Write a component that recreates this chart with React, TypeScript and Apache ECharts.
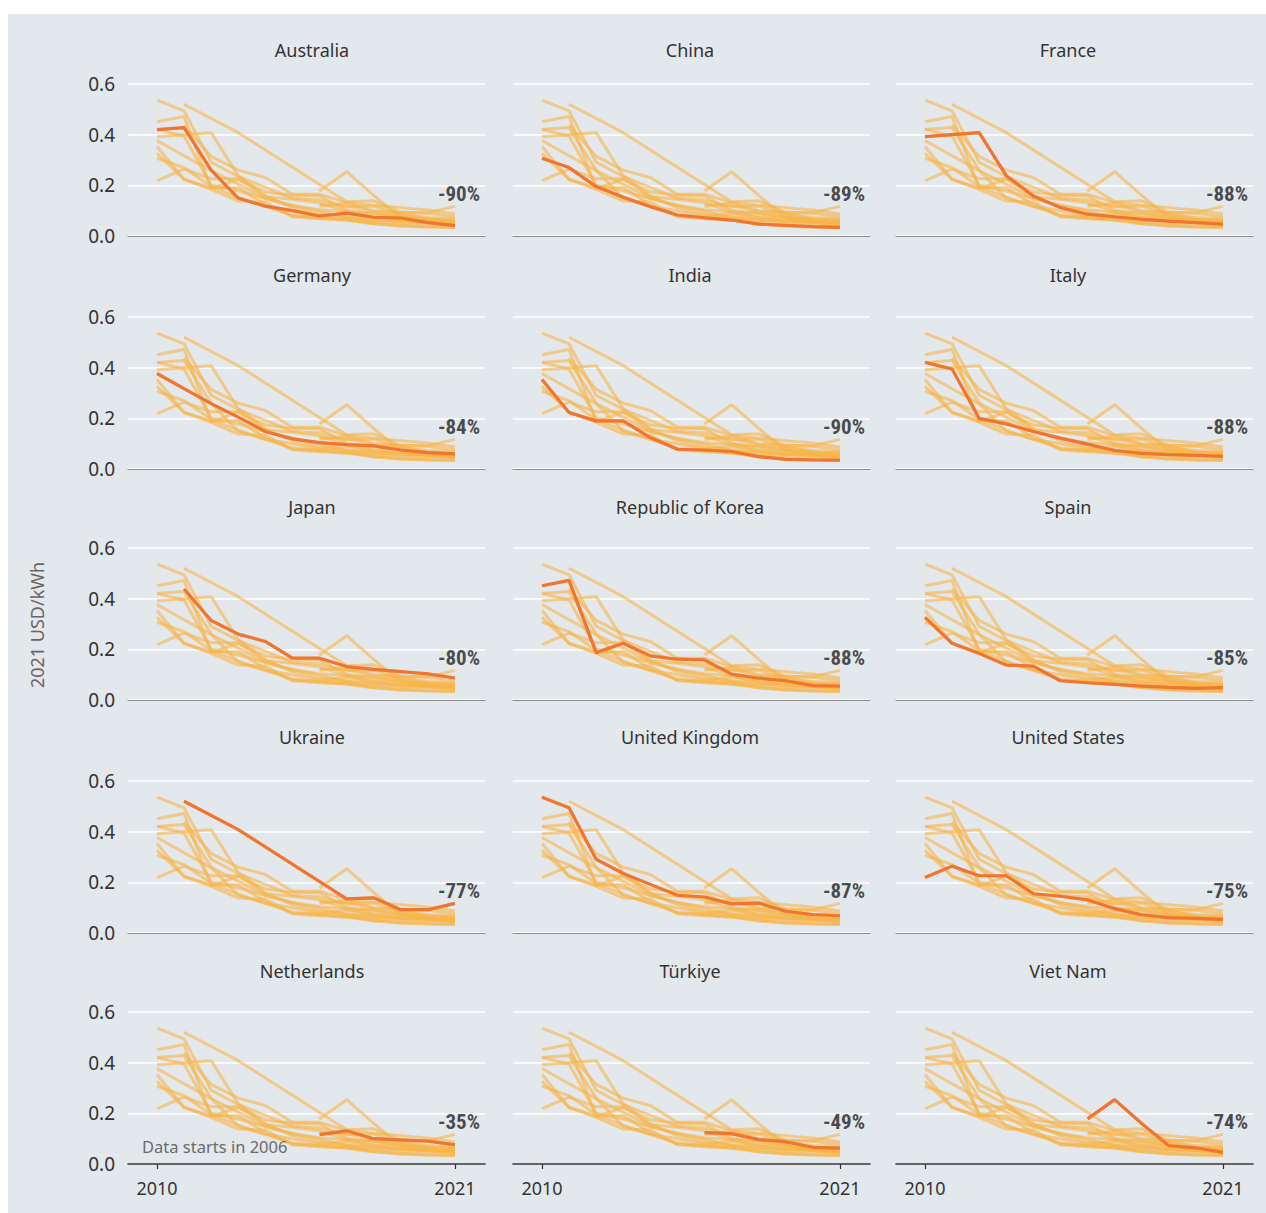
import React, { useEffect, useRef } from "react";
import * as echarts from "echarts";

// ---- Data (2021 USD/kWh) ----
const years = [2010, 2011, 2012, 2013, 2014, 2015, 2016, 2017, 2018, 2019, 2020, 2021];

const australia = [0.42, 0.428, 0.26, 0.149, 0.118, 0.1, 0.079, 0.09, 0.074, 0.071, 0.053, 0.041];
const china = [0.307, 0.27, 0.195, 0.153, 0.116, 0.083, 0.072, 0.063, 0.047, 0.042, 0.037, 0.034];
const france = [0.392, 0.4, 0.408, 0.238, 0.158, 0.112, 0.086, 0.076, 0.066, 0.059, 0.053, 0.047];
const germany = [0.377, 0.317, 0.258, 0.205, 0.148, 0.119, 0.104, 0.096, 0.091, 0.075, 0.065, 0.06];
const india = [0.353, 0.223, 0.19, 0.19, 0.124, 0.078, 0.075, 0.069, 0.049, 0.038, 0.036, 0.035];
const italy = [0.421, 0.395, 0.2, 0.178, 0.148, 0.122, 0.098, 0.073, 0.062, 0.057, 0.054, 0.05];
const japan = [null, 0.438, 0.314, 0.26, 0.231, 0.165, 0.165, 0.132, 0.121, 0.112, 0.103, 0.087];
const korea = [0.451, 0.472, 0.187, 0.224, 0.174, 0.161, 0.158, 0.102, 0.086, 0.076, 0.057, 0.055];
const spain = [0.326, 0.224, 0.184, 0.138, 0.134, 0.076, 0.068, 0.062, 0.055, 0.05, 0.046, 0.049];
const ukraine = [null, 0.52, null, 0.408, null, null, null, 0.135, 0.139, 0.092, 0.092, 0.117];
const unitedKingdom = [0.536, 0.494, 0.291, 0.235, 0.192, 0.149, 0.142, 0.115, 0.118, 0.086, 0.073, 0.068];
const unitedStates = [0.219, 0.264, 0.226, 0.226, 0.155, 0.145, 0.131, 0.096, 0.072, 0.061, 0.058, 0.054];
const netherlands = [null, null, null, null, null, null, 0.116, 0.131, 0.1, 0.095, 0.09, 0.076];
const turkiye = [null, null, null, null, null, null, 0.124, 0.12, 0.096, 0.088, 0.066, 0.063];
const vietNam = [null, null, null, null, null, null, 0.178, 0.254, 0.16, 0.072, 0.064, 0.046];

const countries = [
  "Australia", "China", "France",
  "Germany", "India", "Italy",
  "Japan", "Republic of Korea", "Spain",
  "Ukraine", "United Kingdom", "United States",
  "Netherlands", "Türkiye", "Viet Nam",
];
const countryValues = [
  australia, china, france,
  germany, india, italy,
  japan, korea, spain,
  ukraine, unitedKingdom, unitedStates,
  netherlands, turkiye, vietNam,
];
const changeLabels = [
  "-90%", "-89%", "-88%",
  "-84%", "-90%", "-88%",
  "-80%", "-88%", "-85%",
  "-77%", "-87%", "-75%",
  "-35%", "-49%", "-74%",
];
const xTickYears = [2010, 2021];
const yAxisTitle = "2021 USD/kWh";
const noteText = "Data starts in 2006";

const FONT = "'Noto Sans', Lato, sans-serif";
const BOLD_FONT = "'Liberation Sans Narrow', 'Roboto Condensed', 'DejaVu Sans Condensed', Roboto, sans-serif";

export default function App() {
  const ref = useRef<HTMLDivElement>(null);

  useEffect(() => {
    if (!ref.current) return;
    const chart = echarts.init(ref.current, null, { renderer: "svg" });

    const colLeft = [128, 513, 896];
    const rowTop = [84, 317, 548, 781, 1012];
    const titleX = [312, 690, 1068];
    const titleY = [50, 275, 507, 737, 971];

    const grids: any[] = [];
    const xAxes: any[] = [];
    const yAxes: any[] = [];
    const series: any[] = [];
    const graphics: any[] = [
      {
        type: "rect",
        shape: { x: 8, y: 14, width: 1258, height: 1199 },
        style: { fill: "#E3E8EC" },
        z: -100,
        silent: true,
      },
      {
        type: "text",
        x: 37,
        y: 625,
        rotation: Math.PI / 2,
        style: {
          text: yAxisTitle,
          fill: "#666",
          font: `18px ${FONT}`,
          textAlign: "center",
          textVerticalAlign: "middle",
        },
        silent: true,
      },
      {
        type: "text",
        x: 142,
        y: 1146,
        style: {
          text: noteText,
          fill: "#6b6b6b",
          font: `16.5px ${FONT}`,
          textAlign: "left",
          textVerticalAlign: "middle",
        },
        z: 50,
        silent: true,
      },
    ];

    const toData = (vals: (number | null)[]) =>
      years.map((y, k) => [y, vals[k] === null ? "-" : vals[k]]);

    countries.forEach((name, i) => {
      const r = Math.floor(i / 3);
      const c = i % 3;
      const lastRow = r === 4;
      grids.push({ left: colLeft[c], top: rowTop[r], width: 357, height: 152 });

      xAxes.push({
        type: "value",
        gridIndex: i,
        min: 2008.93,
        max: 2022.11,
        axisLine: {
          show: true,
          onZero: false,
          lineStyle: { color: lastRow ? "#333" : "#8c8c8c", width: lastRow ? 1.6 : 1.2 },
        },
        axisTick: {
          show: lastRow,
          customValues: xTickYears,
          length: 5,
          lineStyle: { color: "#333", width: 1.2 },
        },
        axisLabel: {
          show: lastRow,
          customValues: xTickYears,
          formatter: (v: number) => String(v),
          fontSize: 18,
          color: "#333",
          fontFamily: FONT,
          margin: 15,
        },
        splitLine: { show: false },
      });

      yAxes.push({
        type: "value",
        gridIndex: i,
        min: 0,
        max: 0.6,
        interval: 0.2,
        axisLine: { show: false },
        axisTick: { show: false },
        axisLabel: {
          show: c === 0,
          formatter: (v: number) => v.toFixed(1),
          fontSize: 19,
          color: "#333",
          fontFamily: FONT,
          margin: 13,
        },
        splitLine: { show: true, lineStyle: { color: "#ffffff", width: 1.6 } },
      });

      countryValues.forEach((vals) => {
        series.push({
          type: "line",
          xAxisIndex: i,
          yAxisIndex: i,
          data: toData(vals),
          symbol: "none",
          connectNulls: true,
          silent: true,
          lineStyle: { color: "rgba(248, 180, 72, 0.6)", width: 3 },
          z: 2,
        });
      });

      series.push({
        type: "line",
        xAxisIndex: i,
        yAxisIndex: i,
        data: toData(countryValues[i]),
        symbol: "none",
        connectNulls: true,
        silent: true,
        lineStyle: { color: "#F07530", width: 3.2 },
        z: 3,
      });

      series.push({
        type: "scatter",
        xAxisIndex: i,
        yAxisIndex: i,
        data: [[2021.15, 0.167]],
        symbolSize: 0,
        silent: true,
        z: 4,
        label: {
          show: true,
          position: "inside",
          formatter: changeLabels[i],
          fontSize: 21,
          fontWeight: "bold",
          color: "#1e1e1e",
          fontFamily: BOLD_FONT,
        },
      });

      graphics.push({
        type: "text",
        x: titleX[c],
        y: titleY[r],
        style: {
          text: name,
          fill: "#333",
          font: `18px ${FONT}`,
          textAlign: "center",
          textVerticalAlign: "middle",
        },
        silent: true,
      });
    });

    chart.setOption({
      animation: false,
      backgroundColor: "#ffffff",
      grid: grids,
      xAxis: xAxes,
      yAxis: yAxes,
      series,
      graphic: { elements: graphics },
    });

    return () => chart.dispose();
  }, []);

  return (
    <div
      ref={ref}
      style={{ position: "fixed", left: 0, top: 0, width: 1266, height: 1213 }}
    />
  );
}
